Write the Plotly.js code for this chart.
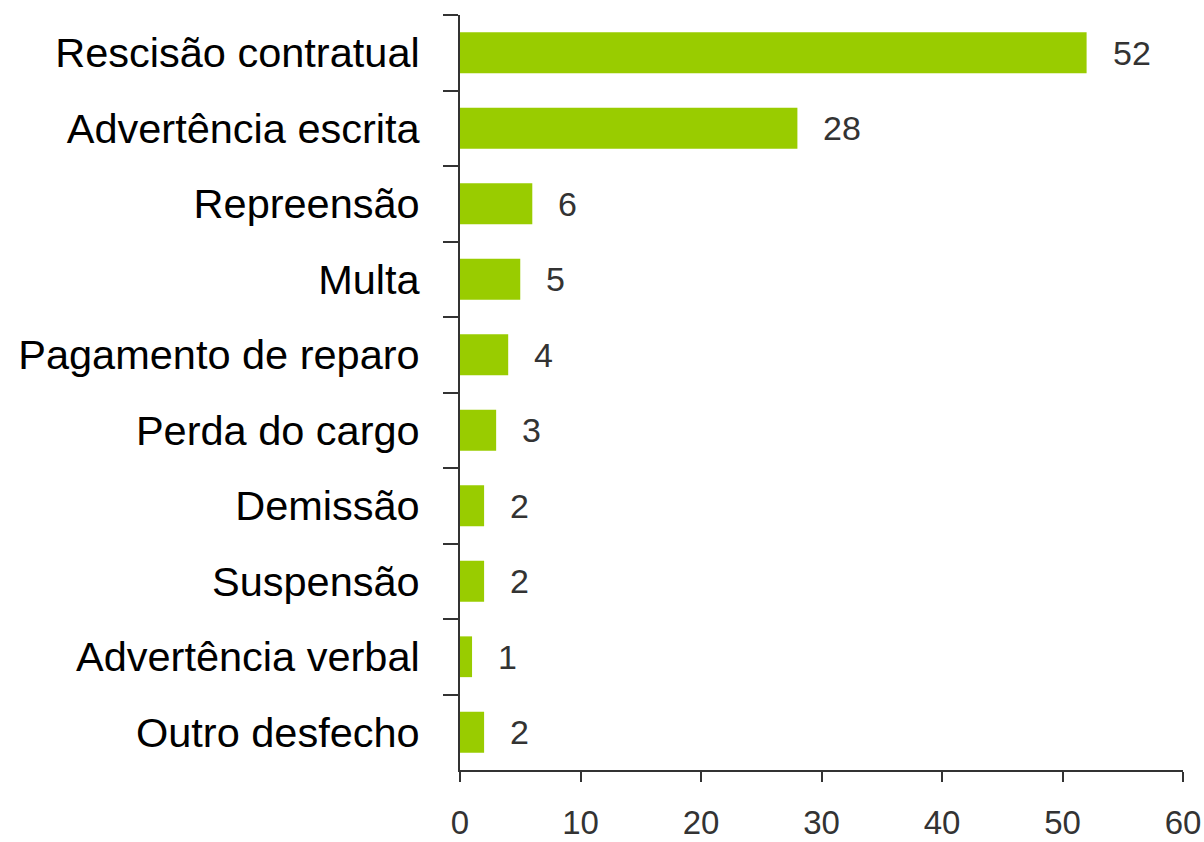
<!DOCTYPE html>
<html>
<head>
<meta charset="utf-8">
<script src="https://cdn.plot.ly/plotly-3.0.1.min.js"></script>
<style>html,body{margin:0;padding:0;background:#fff;}#chart{width:1204px;height:842px;}</style>
</head>
<body>
<div id="chart"></div>
<script>
var categories = ["Rescisão contratual", "Advertência escrita", "Repreensão", "Multa", "Pagamento de reparo", "Perda do cargo", "Demissão", "Suspensão", "Advertência verbal", "Outro desfecho"];
var values = [52, 28, 6, 5, 4, 3, 2, 2, 1, 2];
var xTicks = [0, 10, 20, 30, 40, 50, 60];

var trace = {
  type: "bar",
  orientation: "h",
  x: values,
  y: categories,
  marker: { color: "#99cc00" },
  hoverinfo: "none"
};

var annotations = values.map(function (v, i) {
  return {
    x: v, y: categories[i], xref: "x", yref: "y",
    text: String(v), showarrow: false, xanchor: "left", yanchor: "middle",
    xshift: 24,
    font: { family: "Liberation Sans, Arial, sans-serif", size: 34, color: "#333333" }
  };
});

var layout = {
  width: 1204, height: 842,
  margin: { l: 460, r: 21, t: 15, b: 72 },
  paper_bgcolor: "#ffffff", plot_bgcolor: "#ffffff",
  showlegend: false,
  bargap: 0.46,
  font: { family: "Liberation Sans, Arial, sans-serif" },
  xaxis: {
    range: [0, 60], tickvals: xTicks, ticktext: xTicks.map(String),
    showgrid: false, zeroline: false,
    showline: true, linecolor: "#333333", linewidth: 2,
    ticks: "outside", ticklen: 10, tickwidth: 2, tickcolor: "#333333",
    ticklabelstandoff: 12,
    tickfont: { size: 33, color: "#333333" }
  },
  yaxis: {
    autorange: "reversed", type: "category",
    showgrid: false, zeroline: false,
    showline: true, linecolor: "#333333", linewidth: 2,
    ticks: "outside", tickson: "boundaries", ticklen: 15, tickwidth: 2, tickcolor: "#333333",
    ticklabelstandoff: 30,
    tickfont: { size: 41.5, color: "#000000" }
  },
  annotations: annotations
};

Plotly.newPlot("chart", [trace], layout, { displayModeBar: false, staticPlot: true });
</script>
</body>
</html>
